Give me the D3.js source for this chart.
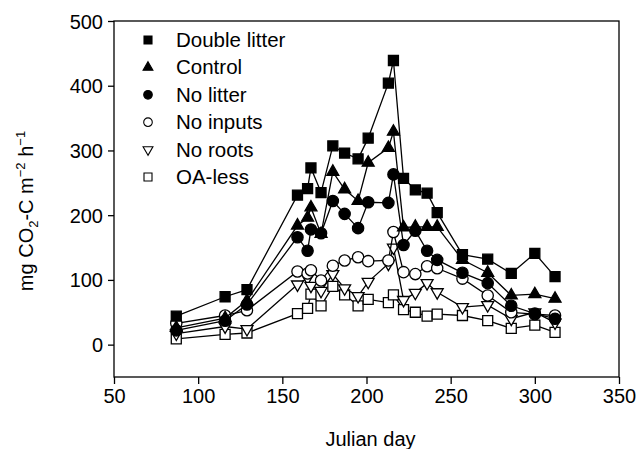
<!DOCTYPE html>
<html>
<head>
<meta charset="utf-8">
<script src="https://cdn.jsdelivr.net/npm/d3@7/dist/d3.min.js"></script>
<style>
  body { margin: 0; background: #fff; }
  text { font-family: "Liberation Sans", Arial, sans-serif; fill: #000; }
</style>
</head>
<body>
<div id="chart"></div>
<script>
// sampling days (Julian day)
var days = [87, 116, 129, 159, 165, 167, 173, 180, 187, 195, 201, 213, 216, 222, 229, 236, 242, 257, 272, 286, 300, 312];

var doubleLitter = [44, 74, 85, 231, 241, 273, 235, 307, 296, 287, 319, 404, 439, 257, 239, 234, 204, 139, 132, 110, 141, 105];
var control      = [26, 41, 68, 184, 196, 212, 171, 267, 240, 222, 281, 304, 329, 181, 182, 182, 182, 131, 111, 76, 78, 71];
var noLitter     = [22, 37, 62, 166, 145, 178, 172, 222, 202, 180, 220, 219, 263, 154, 176, 145, 131, 111, 95, 60, 48, 40];
var noInputs     = [33, 45, 53, 113, 110, 115, 99, 122, 130, 135, 129, 130, 174, 112, 109, 121, 118, 102, 76, 50, 47, 45];
var noRoots      = [17, 28, 24, 93, 103, 91, 83, 109, 87, 75, 97, 125, 150, 69, 80, 95, 81, 58, 61, 40, 50, 34];
var oaLess       = [9, 16, 18, 48, 56, 78, 60, 90, 77, 60, 70, 65, 77, 54, 50, 44, 47, 45, 37, 25, 30, 19];

var seriesNames = ["Double litter", "Control", "No litter", "No inputs", "No roots", "OA-less"];
var seriesValues = [doubleLitter, control, noLitter, noInputs, noRoots, oaLess];

var xTicks = [50, 100, 150, 200, 250, 300, 350];
var yTicks = [0, 100, 200, 300, 400, 500];

var width = 639, height = 449;
var margin = { top: 21, right: 20, bottom: 72, left: 114 };

var svg = d3.select("#chart").append("svg")
    .attr("width", width)
    .attr("height", height);

var x = d3.scaleLinear().domain([50, 350]).range([margin.left, width - margin.right]);
var y = d3.scaleLinear().domain([-50, 500]).range([height - margin.bottom, margin.top]);

// marker styles per series
var markers = [
    { type: d3.symbolSquare, size: 100, fill: "#000", rot: 0, legSize: 64 },
    { type: d3.symbolTriangle, size: 62, fill: "#000", rot: 0, legSize: 42 },
    { type: d3.symbolCircle, size: 100, fill: "#000", rot: 0, legSize: 58 },
    { type: d3.symbolCircle, size: 100, fill: "#fff", rot: 0, legSize: 58 },
    { type: d3.symbolTriangle, size: 62, fill: "#fff", rot: 180, legSize: 42 },
    { type: d3.symbolSquare, size: 100, fill: "#fff", rot: 0, legSize: 64 }
];

// plot frame
svg.append("rect")
    .attr("x", x(50))
    .attr("y", y(500))
    .attr("width", x(350) - x(50))
    .attr("height", y(-50) - y(500))
    .attr("fill", "none")
    .attr("stroke", "#000")
    .attr("stroke-width", 1.3);

var xAxis = svg.append("g")
    .attr("transform", "translate(0," + y(-50) + ")")
    .call(d3.axisBottom(x).tickValues(xTicks).tickSize(7).tickPadding(5).tickFormat(d3.format("d")));

var yAxis = svg.append("g")
    .attr("transform", "translate(" + x(50) + ",0)")
    .call(d3.axisLeft(y).tickValues(yTicks).tickSize(6).tickPadding(5).tickFormat(d3.format("d")));

[xAxis, yAxis].forEach(function (g) {
    g.select(".domain").remove();
    g.selectAll(".tick line").attr("stroke", "#000").attr("stroke-width", 1.3);
    g.selectAll(".tick text").style("font-size", "20px").attr("fill", "#000")
        .style("font-family", '"Liberation Sans", Arial, sans-serif');
});
yAxis.selectAll(".tick text").attr("dy", "0.35em");

// axis titles
svg.append("text")
    .attr("x", (x(50) + x(350)) / 2 + 4)
    .attr("y", 446)
    .attr("text-anchor", "middle")
    .style("font-size", "20px")
    .text("Julian day");

var yl = svg.append("text")
    .attr("transform", "translate(33,211) rotate(-90)")
    .attr("text-anchor", "middle")
    .style("font-size", "20px");
yl.append("tspan").text("mg CO");
yl.append("tspan").attr("dy", 5).style("font-size", "13px").text("2");
yl.append("tspan").attr("dy", -5).text("-C m");
yl.append("tspan").attr("dy", -8).style("font-size", "13px").text("\u22122");
yl.append("tspan").attr("dy", 8).text(" h");
yl.append("tspan").attr("dy", -8).style("font-size", "13px").text("\u22121");

var line = d3.line()
    .x(function (d) { return x(d.day); })
    .y(function (d) { return y(d.v); });

// draw from bottom series up so filled markers sit on top
for (var s = seriesValues.length - 1; s >= 0; s--) {
    var pts = days.map(function (d, i) { return { day: d, v: seriesValues[s][i] }; });
    var m = markers[s];
    var g = svg.append("g");
    g.append("path")
        .datum(pts)
        .attr("d", line)
        .attr("fill", "none")
        .attr("stroke", "#000")
        .attr("stroke-width", 1.3);
    g.selectAll("path.pt")
        .data(pts)
        .enter()
        .append("path")
        .attr("class", "pt")
        .attr("d", d3.symbol().type(m.type).size(m.size))
        .attr("transform", function (d) {
            return "translate(" + x(d.day) + "," + y(d.v) + ") rotate(" + m.rot + ")";
        })
        .attr("fill", m.fill)
        .attr("stroke", "#000")
        .attr("stroke-width", 1.3);
}

// legend
var legend = svg.append("g");
seriesNames.forEach(function (name, i) {
    var cy = 40 + i * 27.4;
    var m = markers[i];
    legend.append("path")
        .attr("d", d3.symbol().type(m.type).size(m.legSize))
        .attr("transform", "translate(148," + cy + ") rotate(" + m.rot + ")")
        .attr("fill", m.fill)
        .attr("stroke", "#000")
        .attr("stroke-width", 1.1);
    legend.append("text")
        .attr("x", 176)
        .attr("y", cy + 7)
        .style("font-size", "20.5px")
        .text(name);
});
</script>
</body>
</html>
